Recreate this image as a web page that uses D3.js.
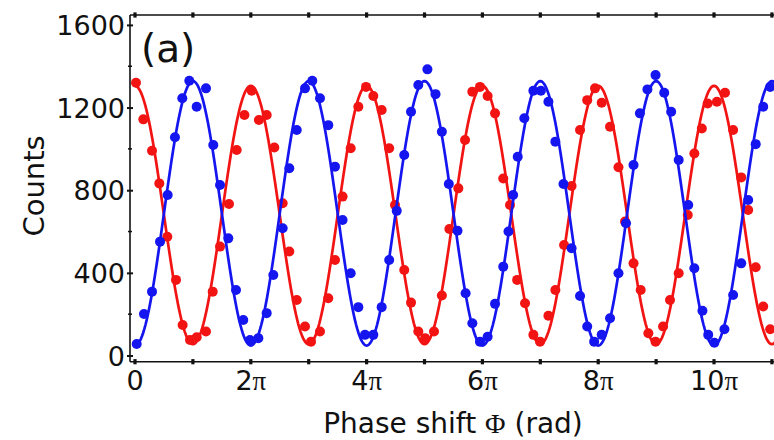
<!DOCTYPE html>
<html><head><meta charset="utf-8">
<script src="https://cdn.jsdelivr.net/npm/d3@7"></script>
<style>html,body{margin:0;padding:0;background:#fff;}svg{display:block;}</style>
</head><body>
<svg id="c" width="774" height="440"></svg>
<script>
// Phase in units of π
const redPhase = [0.017,0.144,0.294,0.42,0.558,0.708,0.823,0.95,1.065,1.226,1.342,1.468,1.623,1.756,1.89,2.015,2.14,2.274,2.406,2.55,2.665,2.793,2.936,3.04,3.195,3.338,3.454,3.585,3.725,3.857,3.99,4.116,4.26,4.39,4.49,4.65,4.767,4.893,5.01,5.164,5.3,5.43,5.584,5.7,5.826,5.958,6.09,6.218,6.36,6.477,6.6,6.736,6.88,6.995,7.14,7.26,7.41,7.54,7.686,7.81,7.945,8.06,8.204,8.35,8.463,8.61,8.734,8.866,8.99,9.12,9.24,9.39,9.546,9.66,9.79,9.89,10.05,10.19,10.33,10.47,10.59,10.72,10.85,10.97];
const redCounts = [1320,1143,991,833,575,366,148,75,88,116,309,527,733,995,1164,1281,1140,1164,1007,737,503,269,140,67,116,277,462,769,1003,1204,1300,1256,1188,1003,728,414,256,116,84,116,290,612,809,1043,1277,1300,1256,1172,857,728,366,253,100,67,192,317,535,820,1091,1236,1293,1223,1107,911,648,446,317,108,67,140,269,398,680,978,1099,1220,1228,1272,1091,862,704,427,237,127];
const bluePhase = [0.029,0.155,0.294,0.432,0.564,0.69,0.817,0.938,1.065,1.226,1.352,1.468,1.611,1.744,1.87,1.986,2.13,2.274,2.389,2.55,2.665,2.793,2.936,3.062,3.195,3.338,3.454,3.585,3.725,3.857,3.972,4.116,4.26,4.39,4.52,4.65,4.767,4.893,5.05,5.19,5.3,5.42,5.57,5.71,5.826,5.958,6.09,6.218,6.36,6.45,6.53,6.61,6.724,6.88,7.01,7.14,7.26,7.4,7.54,7.686,7.81,7.93,8.06,8.204,8.35,8.48,8.61,8.72,8.85,8.99,9.14,9.26,9.39,9.555,9.66,9.8,9.9,10.006,10.18,10.33,10.47,10.59,10.72,10.85,10.97];
const blueCounts = [56,201,309,551,777,1056,1245,1330,1204,1293,1019,825,567,317,172,75,84,205,390,616,906,1091,1293,1330,1245,1115,914,656,398,234,100,100,234,462,700,970,1180,1309,1385,1265,1083,830,604,301,156,67,91,250,430,600,777,962,1148,1281,1281,1228,1035,830,519,288,140,67,100,180,398,640,922,1172,1288,1357,1272,1180,946,728,422,217,100,62,127,293,446,753,1023,1204,1300];
// Fit parameters (counts = offset ± amplitude·cos Φ)
const redFit = {offset: 680, amplitude: 625, sign: 1};
const blueFit = {offset: 688, amplitude: 640, sign: -1};
const yTicks = [0,400,800,1200,1600];
const yMinorTicks = [200,600,1000,1400];
const xTicks = [0,1,2,3,4,5,6,7,8,9,10,11];
const xTickLabels = ["0","","2","","4","","6","","8","","10",""];

const svg = d3.select("#c");
const x = d3.scaleLinear().domain([-0.0864, 11.2]).range([130, 783.5]);
const y = d3.scaleLinear().domain([-30, 1648]).range([361.7, 15]);

const axisColor = "#111";
// frame lines
svg.append("line").attr("x1",130).attr("x2",130).attr("y1",y.range()[1]).attr("y2",y.range()[0]).attr("stroke",axisColor).attr("stroke-width",1.6);
svg.append("line").attr("x1",130).attr("x2",x.range()[1]).attr("y1",y.range()[0]).attr("y2",y.range()[0]).attr("stroke",axisColor).attr("stroke-width",1.6);
svg.append("line").attr("x1",130).attr("x2",x.range()[1]).attr("y1",y.range()[1]).attr("y2",y.range()[1]).attr("stroke",axisColor).attr("stroke-width",1.6);

// y ticks via axis
const yAxis = svg.append("g").attr("transform","translate(130,0)")
  .call(d3.axisLeft(y).tickValues(yTicks).tickFormat(d3.format("d")).tickSize(3).tickPadding(3));
yAxis.select(".domain").remove();
yAxis.selectAll(".tick line").attr("x2",3).attr("x1",-3).attr("stroke",axisColor).attr("stroke-width",2);
yAxis.selectAll(".tick text").attr("font-family","DejaVu Sans").attr("font-size",27).attr("fill","#111").attr("x",-5).attr("dy","0.36em");
svg.append("g").selectAll("line").data(yMinorTicks).join("line")
  .attr("x1",128).attr("x2",132).attr("y1",d=>y(d)).attr("y2",d=>y(d)).attr("stroke",axisColor).attr("stroke-width",1.5);

// x ticks bottom and top
[y.range()[0], y.range()[1]].forEach(yy => {
  svg.append("g").selectAll("rect").data(xTicks).join("rect")
    .attr("x",d=>x(d)-1.6).attr("y",yy-2.6).attr("width",3.2).attr("height",5.2).attr("fill",axisColor);
});
const xl = svg.append("g").selectAll("text").data(xTicks.filter((d,i)=>xTickLabels[i]!=="")).join("text")
  .attr("x",d=>x(d)).attr("y",390).attr("text-anchor","middle")
  .attr("font-family","DejaVu Sans").attr("font-size",27).attr("fill","#111");
xl.each(function(d){
  const t = d3.select(this);
  const lab = xTickLabels[xTicks.indexOf(d)];
  t.append("tspan").text(lab);
  if (d !== 0) t.append("tspan").attr("font-family","Liberation Serif").attr("font-size",27).text("π");
});

// titles
const xt = svg.append("text").attr("x",453).attr("y",433).attr("text-anchor","middle")
  .attr("font-family","DejaVu Sans").attr("font-size",28).attr("fill","#111");
xt.append("tspan").text("Phase shift ");
xt.append("tspan").attr("font-family","Liberation Serif").text("Φ");
xt.append("tspan").text(" (rad)");
svg.append("text").attr("transform","translate(44,186) rotate(-90)").attr("text-anchor","middle")
  .attr("font-family","DejaVu Sans").attr("font-size",29).attr("fill","#111").text("Counts");
svg.append("text").attr("x",141).attr("y",62).attr("font-family","DejaVu Sans").attr("font-size",39).attr("fill","#111").text("(a)");

// fits
const fitPhases = d3.range(0, 11.2, 0.02);
const line = d3.line().x(d=>x(d[0])).y(d=>y(d[1])).curve(d3.curveLinear);
function drawSeries(phase, counts, fit, color){
  const pts = fitPhases.map(p => [p, fit.offset + fit.sign*fit.amplitude*Math.cos(p*Math.PI)]);
  svg.append("path").attr("d", line(pts)).attr("fill","none").attr("stroke",color).attr("stroke-width",2.7);
  svg.append("g").selectAll("circle").data(phase.map((p,i)=>[p,counts[i]])).join("circle")
    .attr("cx",d=>x(d[0])).attr("cy",d=>y(d[1])).attr("r",5).attr("fill",color);
}
drawSeries(redPhase, redCounts, redFit, "#f21313");
drawSeries(bluePhase, blueCounts, blueFit, "#1515f0");
</script>
</body></html>
